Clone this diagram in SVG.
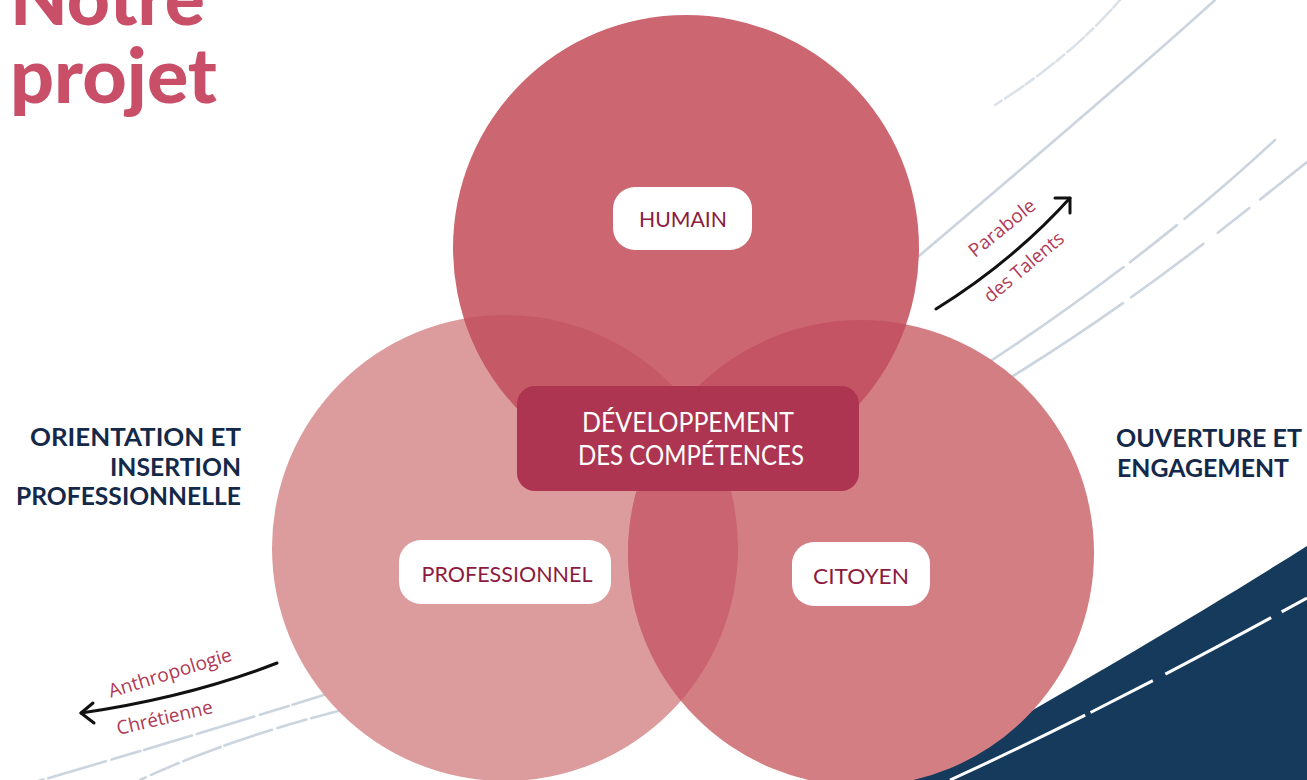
<svg xmlns="http://www.w3.org/2000/svg" width="1307" height="780" viewBox="0 0 1307 780">
<style>
.bg{fill:none;stroke:#CBD5DF;stroke-width:2.6;stroke-linecap:round}
.pill{fill:#FFFFFF}
.pt{font-family:Lato,"Liberation Sans",sans-serif;font-size:22px;fill:#8C1B40;text-anchor:middle}
.ct{font-family:Lato,"Liberation Sans",sans-serif;font-size:26px;fill:#FFFFFF;text-anchor:middle}
.lab{font-family:Lato,"Liberation Sans",sans-serif;font-weight:700;font-size:25px;fill:#14294A}
.arr{fill:none;stroke:#111111;stroke-width:3;stroke-linecap:round;stroke-linejoin:round}
.at{font-family:"Open Sans","Noto Sans",sans-serif;font-size:19px;fill:#B03A55;text-anchor:middle}
.title{font-family:Lato,"Open Sans",sans-serif;font-weight:900;font-size:76px;fill:#C84F67}
</style>
<defs>
<clipPath id="cTop"><circle cx="686" cy="248" r="233"/></clipPath>
<clipPath id="cLeft"><circle cx="505" cy="548" r="233"/></clipPath>
<clipPath id="cRight"><circle cx="861" cy="553" r="233"/></clipPath>
</defs>
<rect x="0" y="0" width="1307" height="780" fill="#FFFFFF"/>
<g id="background-lines">
<path class="bg" d="M1120 0 C1090 35 1050 70 995 105" stroke-dasharray="10 3 22 4" opacity="0.7"/>
<path class="bg" d="M1215 0 C1160 50 1050 145 900 272"/>
<path class="bg" d="M1275 140 C1200 210 1100 290 980 368" stroke-dasharray="120 10 60 8 200 12"/>
<path class="bg" d="M1307 162 C1220 232 1120 312 990 390" stroke-dasharray="60 14 40 18 90 10 200"/>
<path class="bg" d="M340 690 C250 718 140 752 0 792" stroke-dasharray="50 4 30 6 60 5"/>
<path class="bg" d="M350 708 C270 728 200 752 140 780" stroke-dasharray="40 5 30 6 50 4"/>
</g>
<g id="blue-wave">
<path d="M912 780 C1000 728 1150 645 1307 546 L1307 780 Z" fill="#163A5C"/>
<path d="M950 780 C1060 730 1180 668 1307 598" fill="none" stroke="#FFFFFF" stroke-width="3" stroke-dasharray="150 6 70 14 120 12 60"/>
</g>
<g id="circles">
<circle id="circle-left" cx="505" cy="548" r="233" fill="#DC9B9D"/>
<circle id="circle-right" cx="861" cy="553" r="233" fill="#D37E82"/>
<circle id="circle-top" cx="686" cy="248" r="233" fill="#CC6670"/>
<g clip-path="url(#cLeft)"><circle cx="861" cy="553" r="233" fill="#CA6470"/></g>
<g clip-path="url(#cTop)"><circle cx="505" cy="548" r="233" fill="#C55965"/></g>
<g clip-path="url(#cTop)"><circle cx="861" cy="553" r="233" fill="#C45464"/></g>
</g>
<g id="node-humain">
<rect class="pill" x="613" y="187" width="139" height="63" rx="22"/>
<text class="pt" x="683" y="227" textLength="88" lengthAdjust="spacingAndGlyphs">HUMAIN</text>
</g>
<g id="node-professionnel">
<rect class="pill" x="399" y="540" width="212" height="64" rx="22"/>
<text class="pt" x="507" y="582" textLength="171" lengthAdjust="spacingAndGlyphs">PROFESSIONNEL</text>
</g>
<g id="node-citoyen">
<rect class="pill" x="792" y="542" width="138" height="64" rx="22"/>
<text class="pt" x="861" y="584" textLength="96" lengthAdjust="spacingAndGlyphs">CITOYEN</text>
</g>
<g id="node-center">
<rect x="517" y="386" width="342" height="105" rx="18" fill="#AD3551"/>
<text class="ct" x="688" y="432" textLength="212" lengthAdjust="spacingAndGlyphs">DÉVELOPPEMENT</text>
<text class="ct" x="691" y="465" textLength="226" lengthAdjust="spacingAndGlyphs">DES COMPÉTENCES</text>
</g>
<g id="label-left">
<text class="lab" x="241" y="446" text-anchor="end" textLength="211" lengthAdjust="spacingAndGlyphs">ORIENTATION ET</text>
<text class="lab" x="241" y="476" text-anchor="end" textLength="131" lengthAdjust="spacingAndGlyphs">INSERTION</text>
<text class="lab" x="241" y="505" text-anchor="end" textLength="225" lengthAdjust="spacingAndGlyphs">PROFESSIONNELLE</text>
</g>
<g id="label-right">
<text class="lab" x="1116" y="447" textLength="186" lengthAdjust="spacingAndGlyphs">OUVERTURE  ET</text>
<text class="lab" x="1117" y="477" textLength="172" lengthAdjust="spacingAndGlyphs">ENGAGEMENT</text>
</g>
<g id="connectors">
<path class="arr" d="M936 309 Q1012 262 1070 198"/>
<path class="arr" d="M1055 198 L1070 198 L1070 213"/>
<path class="arr" d="M277 663 Q190 697 81 713"/>
<path class="arr" d="M93 703 L81 713 L94 723"/>
</g>
<g id="arrow-labels">
<text class="at" transform="translate(1006 233) rotate(-39)" textLength="80" lengthAdjust="spacingAndGlyphs">Parabole</text>
<text class="at" transform="translate(1028 272) rotate(-40)" textLength="98" lengthAdjust="spacingAndGlyphs">des Talents</text>
<text class="at" transform="translate(172 679) rotate(-17)" textLength="128" lengthAdjust="spacingAndGlyphs">Anthropologie</text>
<text class="at" transform="translate(166 724) rotate(-13)" textLength="98" lengthAdjust="spacingAndGlyphs">Chrétienne</text>
</g>
<g id="title">
<text class="title" x="10" y="25" textLength="195" lengthAdjust="spacingAndGlyphs">Notre</text>
<text class="title" x="10" y="103" textLength="207" lengthAdjust="spacingAndGlyphs">projet</text>
</g>
</svg>
